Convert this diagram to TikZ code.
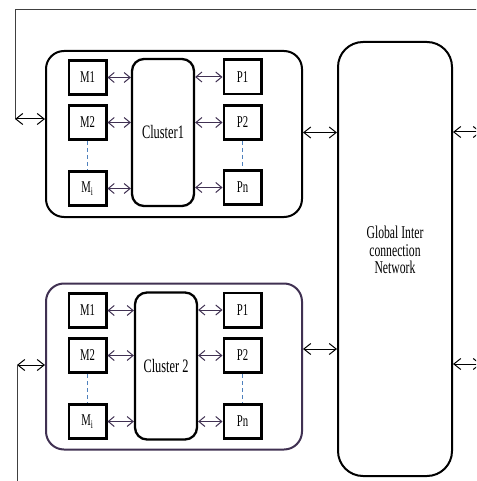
\documentclass[tikz,border=0pt]{standalone}
\usepackage{fontspec}
\setmainfont[FakeStretch=0.65]{Liberation Serif}
\usetikzlibrary{positioning, arrows.meta, calc}
\definecolor{cP}{RGB}{64,49,82}
\definecolor{cB}{RGB}{79,129,189}

\begin{document}
\begin{tikzpicture}[x=1pt, y=-1pt, inner sep=0pt,
    unit/.style={draw, line width=2.6pt, minimum width=37.4pt, minimum height=34.4pt,
                 font=\fontsize{16.5}{16.5}\selectfont},
    hub/.style={draw, line width=2.3pt, rounded corners=12pt, minimum width=62pt,
                minimum height=147pt, font=\fontsize{19}{19}\selectfont},
    group/.style={draw, line width=2pt, rounded corners=18pt, minimum width=256pt,
                  minimum height=166pt},
    link/.style={cP, line width=1pt, {Straight Barb[length=6pt,width=10pt]}-{Straight Barb[length=6pt,width=10pt]}},
    ext/.style={black, line width=1pt, {Straight Barb[length=7pt,width=11pt]}-{Straight Barb[length=7pt,width=11pt]}},
    skip/.style={cB, line width=1pt, dash pattern=on 4pt off 3pt}]

    \clip (0,0) rectangle (476,481);

    % Nodes
    \node[group] (grp1) at (174,134) {};
    \node[group, draw=cP] (grp2) at (174,366.5) {};
    \node[draw, line width=2pt, rounded corners=25pt, minimum width=114pt, minimum height=434pt,
          align=center, font=\fontsize{18}{17.5}\selectfont] (net) at (395,259)
          {Global Inter\\connection\\Network\\ \mbox{}};

    \node[hub] (c1) at (163,132.5) {Cluster1};
    \node[unit] (m11) at (87.5,77.5) {M1};
    \node[unit] (m12) at (87.5,122.5) {M2};
    \node[unit] (m13) at (87.5,188.5) {M\textsubscript{i}};
    \node[unit] (p11) at (242.5,77) {P1};
    \node[unit] (p12) at (242.5,122.5) {P2};
    \node[unit] (p13) at (242.5,187.5) {Pn};

    \node[hub] (c2) at (166,366) {Cluster 2};
    \node[unit] (m21) at (87.5,310.5) {M1};
    \node[unit] (m22) at (87.5,355.5) {M2};
    \node[unit] (m23) at (87.5,421.5) {M\textsubscript{i}};
    \node[unit] (p21) at (242.5,310) {P1};
    \node[unit] (p22) at (242.5,355.5) {P2};
    \node[unit] (p23) at (242.5,421.5) {Pn};

    % free ends
    \coordinate (fbR) at (481,10);
    \coordinate (fbT) at (15,10);
    \coordinate (fb1) at (15,119);
    \coordinate (fb2) at (17,365);
    \coordinate (fbB) at (17,490);
    \coordinate (out1) at (481,132);
    \coordinate (out2) at (481,364);

    % Links inside the clusters
    \foreach \c in {1,2} {
      \foreach \i in {1,2,3} {
        \draw[link] (m\c\i) -- (m\c\i -| c\c.west);
        \draw[link] (p\c\i -| c\c.east) -- (p\c\i);
      }
      \draw[skip] (m\c2) -- (m\c3);
      \draw[skip] (p\c2) -- (p\c3);
    }

    % Links to the network
    \draw[ext] (grp1.east |- c1) -- (net.west |- c1);
    \draw[ext] ([yshift=17.5pt]grp2.east) -- ([yshift=17.5pt]grp2.east -| net.west);
    \draw[ext] (net.east |- out1) -- (out1);
    \draw[ext] (net.east |- out2) -- (out2);

    % Feedback lines
    \draw[black!75, line width=1pt] (fbR) -- (fbT) -- (fb1);
    \draw[ext] (fb1) -- (fb1 -| grp1.west);
    \draw[ext] (fb2) -- (fb2 -| grp2.west);
    \draw[black!75, line width=1pt] (fb2) -- (fbB);

\end{tikzpicture}
\end{document}
